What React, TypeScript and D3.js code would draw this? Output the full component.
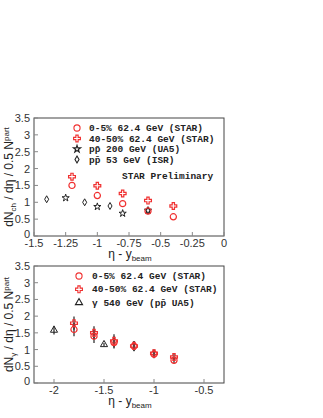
import { useEffect, useRef } from "react";
import * as d3 from "d3";

// top panel: charged particles
const etaStar = [-1.2, -1.0, -0.8, -0.6, -0.4];
const central062 = [1.5, 1.2, 0.96, 0.74, 0.57];
const peripheral062 = [1.76, 1.49, 1.26, 1.05, 0.89];
const ua5Eta = [-1.25, -1.0, -0.8, -0.6];
const ua5Vals = [1.13, 0.87, 0.67, 0.76];
const isrEta = [-1.4, -1.1, -0.9, -0.6];
const isrVals = [1.09, 1.0, 0.89, 0.75];

// bottom panel: photons
const etaGamma = [-1.8, -1.6, -1.4, -1.2, -1.0, -0.8];
const centralGamma = [1.6, 1.4, 1.21, 1.1, 0.86, 0.68];
const centralGammaErr = [0.2, 0.2, 0.18, 0.15, 0.12, 0.1];
const periphGamma = [1.79, 1.5, 1.26, 1.11, 0.89, 0.78];
const periphGammaErr = [0.2, 0.2, 0.2, 0.15, 0.12, 0.1];
const ua5GammaEta = [-2.0, -1.5];
const ua5GammaVals = [1.58, 1.15];
const ua5GammaErr = [0.13, 0.05];

const topXTicks = [-1.5, -1.25, -1, -0.75, -0.5, -0.25, 0];
const botXTicks = [-2, -1.5, -1, -0.5];
const yTicks = [0, 0.5, 1, 1.5, 2, 2.5, 3, 3.5];

const topLegend = [
  { sym: "circle", text: "0-5% 62.4 GeV (STAR)" },
  { sym: "cross", text: "40-50% 62.4 GeV (STAR)" },
  { sym: "star", text: "pp\u0304 200 GeV (UA5)" },
  { sym: "diamond", text: "pp\u0304 53 GeV (ISR)" },
];
const botLegend = [
  { sym: "circle", text: "0-5% 62.4 GeV (STAR)" },
  { sym: "cross", text: "40-50% 62.4 GeV (STAR)" },
  { sym: "triangle", text: "\u03b3 540 GeV (pp\u0304 UA5)" },
];

const RED = "#f03030";
const DARK = "#222";

export default function App() {
  const ref = useRef<SVGSVGElement>(null);

  useEffect(() => {
    if (!ref.current) return;
    const svg = d3.select(ref.current);
    svg.selectAll("*").remove();

    const left = 34,
      right = 224;

    const symbolPath = (name: string) => {
      if (name === "circle") return d3.symbol(d3.symbolCircle, 30)();
      if (name === "cross") return d3.symbol(d3.symbolCross, 26)();
      if (name === "star") return d3.symbol(d3.symbolStar, 16)();
      if (name === "diamond") return d3.symbol(d3.symbolDiamond, 14)();
      return d3.symbol(d3.symbolTriangle, 22)();
    };
    const colorOf = (name: string) =>
      name === "circle" || name === "cross" ? RED : DARK;

    function drawPanel(
      top: number,
      bottom: number,
      xDomain: [number, number],
      xTicks: number[],
      yLabelSub: string
    ) {
      const x = d3.scaleLinear().domain(xDomain).range([left, right]);
      const y = d3.scaleLinear().domain([0, 3.5]).range([bottom, top]);
      const g = svg.append("g");

      g.append("rect")
        .attr("x", left)
        .attr("y", top)
        .attr("width", right - left)
        .attr("height", bottom - top)
        .attr("fill", "none")
        .attr("stroke", "#444")
        .attr("stroke-width", 1);

      // ticks point inward
      g.selectAll(".xt")
        .data(xTicks)
        .enter()
        .append("line")
        .attr("x1", (d) => x(d))
        .attr("x2", (d) => x(d))
        .attr("y1", bottom)
        .attr("y2", bottom - 4)
        .attr("stroke", "#888");
      g.selectAll(".yt")
        .data(yTicks)
        .enter()
        .append("line")
        .attr("x1", left)
        .attr("x2", left + 4)
        .attr("y1", (d) => y(d))
        .attr("y2", (d) => y(d))
        .attr("stroke", "#888");

      g.selectAll(".xl")
        .data(xTicks)
        .enter()
        .append("text")
        .attr("x", (d) => x(d))
        .attr("y", bottom + 11)
        .attr("text-anchor", "middle")
        .attr("font-family", "Liberation Sans, Arial, sans-serif")
        .attr("font-size", 11)
        .attr("fill", "#333")
        .text((d) => String(d));
      g.selectAll(".yl")
        .data(yTicks)
        .enter()
        .append("text")
        .attr("x", left - 4)
        .attr("y", (d) => y(d) + (d === 0 ? 2 : 4))
        .attr("text-anchor", "end")
        .attr("font-family", "Liberation Sans, Arial, sans-serif")
        .attr("font-size", 11)
        .attr("fill", "#333")
        .text((d) => String(d));

      // x title
      const xt = g
        .append("text")
        .attr("x", 130)
        .attr("y", bottom + 22)
        .attr("text-anchor", "middle")
        .attr("font-family", "Liberation Sans, Arial, sans-serif")
        .attr("font-size", 12)
        .attr("fill", "#222");
      xt.append("tspan").text("\u03b7 - y");
      xt.append("tspan").attr("font-size", 8).attr("dy", 3).text("beam");

      // y title
      const yt = g
        .append("text")
        .attr("transform", `translate(13,${(top + bottom) / 2}) rotate(-90)`)
        .attr("text-anchor", "middle")
        .attr("font-family", "Liberation Sans, Arial, sans-serif")
        .attr("font-size", 12)
        .attr("fill", "#222");
      yt.append("tspan").text("dN");
      yt.append("tspan").attr("font-size", 8).attr("dy", 3).text(yLabelSub);
      yt.append("tspan").attr("dy", -3).text(" / d\u03b7 / 0.5 N");
      yt.append("tspan").attr("font-size", 8).attr("dy", -4).text("part");

      return { g, x, y };
    }

    function drawPoints(
      g: d3.Selection<SVGGElement, unknown, null, undefined>,
      x: d3.ScaleLinear<number, number>,
      y: d3.ScaleLinear<number, number>,
      xs: number[],
      ys: number[],
      sym: string
    ) {
      g.selectAll(null)
        .data(xs.map((v, i) => [v, ys[i]]))
        .enter()
        .append("path")
        .attr("d", symbolPath(sym))
        .attr("transform", (d) => `translate(${x(d[0])},${y(d[1])})`)
        .attr("fill", "none")
        .attr("stroke", colorOf(sym))
        .attr("stroke-width", sym === "circle" || sym === "cross" ? 1.2 : 1);
    }

    function drawErrors(
      g: d3.Selection<SVGGElement, unknown, null, undefined>,
      x: d3.ScaleLinear<number, number>,
      y: d3.ScaleLinear<number, number>,
      xs: number[],
      ys: number[],
      es: number[]
    ) {
      g.selectAll(null)
        .data(xs.map((v, i) => [v, ys[i], es[i]]))
        .enter()
        .append("line")
        .attr("x1", (d) => x(d[0]))
        .attr("x2", (d) => x(d[0]))
        .attr("y1", (d) => y(d[1] - d[2]))
        .attr("y2", (d) => y(d[1] + d[2]))
        .attr("stroke", "#222")
        .attr("stroke-width", 1.2);
    }

    function drawLegend(
      items: { sym: string; text: string }[],
      sx: number,
      tx: number,
      y0: number,
      dy: number
    ) {
      items.forEach((it, i) => {
        const yy = y0 + i * dy;
        svg
          .append("path")
          .attr("d", symbolPath(it.sym))
          .attr("transform", `translate(${sx},${yy})`)
          .attr("fill", "none")
          .attr("stroke", colorOf(it.sym))
          .attr("stroke-width", 1.1);
        svg
          .append("text")
          .attr("x", tx)
          .attr("y", yy + 3)
          .attr("font-family", "Liberation Mono, Courier New, monospace")
          .attr("font-weight", "bold")
          .attr("font-size", 9.5)
          .attr("fill", "#222")
          .text(it.text);
      });
    }

    // top panel
    const p1 = drawPanel(118, 236, [-1.5, 0], topXTicks, "ch");
    drawPoints(p1.g, p1.x, p1.y, isrEta, isrVals, "diamond");
    drawPoints(p1.g, p1.x, p1.y, ua5Eta, ua5Vals, "star");
    drawPoints(p1.g, p1.x, p1.y, etaStar, central062, "circle");
    drawPoints(p1.g, p1.x, p1.y, etaStar, peripheral062, "cross");
    drawLegend(topLegend, 77, 89, 128, 10.5);
    svg
      .append("text")
      .attr("x", 122)
      .attr("y", 179)
      .attr("font-family", "Liberation Mono, Courier New, monospace")
      .attr("font-weight", "bold")
      .attr("font-size", 9.5)
      .attr("fill", "#222")
      .text("STAR Preliminary");

    // bottom panel
    const p2 = drawPanel(266, 383, [-2.2, -0.3], botXTicks, "\u03b3");
    drawErrors(p2.g, p2.x, p2.y, ua5GammaEta, ua5GammaVals, ua5GammaErr);
    drawErrors(p2.g, p2.x, p2.y, etaGamma, centralGamma, centralGammaErr);
    drawErrors(p2.g, p2.x, p2.y, etaGamma, periphGamma, periphGammaErr);
    drawPoints(p2.g, p2.x, p2.y, ua5GammaEta, ua5GammaVals, "triangle");
    drawPoints(p2.g, p2.x, p2.y, etaGamma, centralGamma, "circle");
    drawPoints(p2.g, p2.x, p2.y, etaGamma, periphGamma, "cross");
    drawLegend(botLegend, 79, 92, 276, 13.3);
  }, []);

  return (
    <svg
      ref={ref}
      width={323}
      height={418}
      style={{ position: "absolute", left: 0, top: 0, background: "#fff" }}
    />
  );
}
